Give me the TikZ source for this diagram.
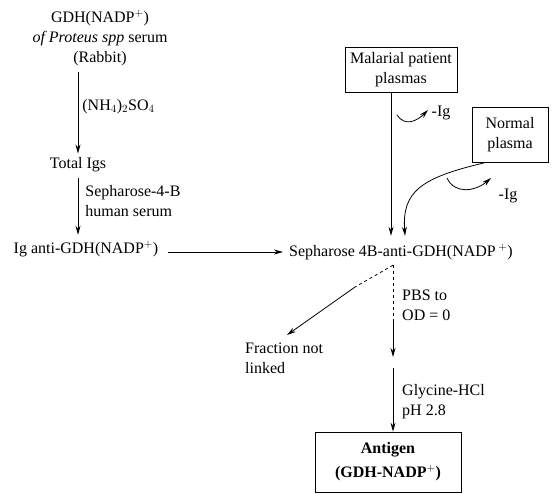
\documentclass[tikz,border=0pt]{standalone}
\usepackage{fontspec}
\setmainfont{Liberation Serif}
\usetikzlibrary{arrows.meta}

\tikzset{
	plainbox/.style={draw, thick, align=center, inner sep=2pt},
	txt/.style={inner sep=0pt, align=left},
	flow/.style={thick, -{Stealth[length=9pt,width=5pt]}}
}

\begin{document}
\begin{tikzpicture}[x=1pt, y=-1pt, font=\fontsize{16}{20}\selectfont]
	\useasboundingbox (0,0) rectangle (554,493);
	% left column
	\node[txt, align=center] (src) at (100,38) {GDH(NADP$^{+}$)\\ \textit{of Proteus spp} serum\\ (Rabbit)};
	\node[txt] (tot) at (78,165) {Total Igs};
	\node[txt] (iga) at (86,249) {Ig anti-GDH(NADP$^{+}$)};
	\draw[flow] ([yshift=-6pt]src.south -| tot.north) -- ([yshift=4pt]tot.north) node[txt, right=4pt, pos=0.42] {(NH$_4$)$_2$SO$_4$};
	\draw[flow] ([yshift=-6pt]tot.south) -- ([yshift=6pt]iga.north -| tot.south) node[txt, right=7pt, pos=0.4] {Sepharose-4-B\\human serum};
	% centre column
	\node[txt] (seph) at (401,252) {Sepharose 4B-anti-GDH(NADP\,$^{+}$)};
	\node[plainbox, minimum width=112pt, minimum height=45pt] (mal) at (401,70) {Malarial patient\\plasmas};
	\node[plainbox, minimum width=76pt, minimum height=55pt] (nor) at (510,135) {Normal\\plasma};
	\draw[flow] ([xshift=10pt]iga.east |- seph.west) -- ([xshift=-6pt]seph.west);
	\draw[flow] ([xshift=-10pt]mal.south) -- ([xshift=-10pt,yshift=8pt]seph.north);
	\draw[flow] (397,115) .. controls (405,127) and (417,121) .. (428,110);
	\node[txt] (ig1) at (441,113) {-Ig};
	\draw[flow] ([xshift=-26pt]nor.south) .. controls (420,178) and (402,192) .. ([xshift=4pt,yshift=8pt]seph.north);
	\draw[flow] (447,178) .. controls (455,195) and (476,191) .. (491,178);
	\node[txt] (ig2) at (508,196) {-Ig};
	% lower part
	\coordinate (split) at ([xshift=-8pt,yshift=-5pt]seph.south);
	\coordinate (od) at (393,357);
	\coordinate (gly) at (393,368);
	\coordinate (dashend) at (393,320);
	\coordinate (fracdash) at (355,287);
	\node[txt] (frac) at (245,358) [anchor=west] {Fraction not\\linked};
	\node[plainbox, font=\bfseries\fontsize{16}{24}\selectfont, minimum width=146pt, minimum height=60pt] (ant) at (388,462) {Antigen\\(GDH-NADP$^{+}$)};
	\draw[thick, dashed] (split) -- (dashend);
	\draw[flow] (dashend) -- (od);
	\node[txt, anchor=west] (pbs) at (402,305) {PBS to\\OD = 0};
	\draw[thick, dashed] (split) -- (fracdash);
	\draw[flow] (fracdash) -- (287,335);
	\draw[flow] (gly) -- (ant.north -| gly);
	\node[txt, anchor=west] (glylab) at (402,402) {Glycine-HCl\\pH 2.8};
\end{tikzpicture}
\end{document}
